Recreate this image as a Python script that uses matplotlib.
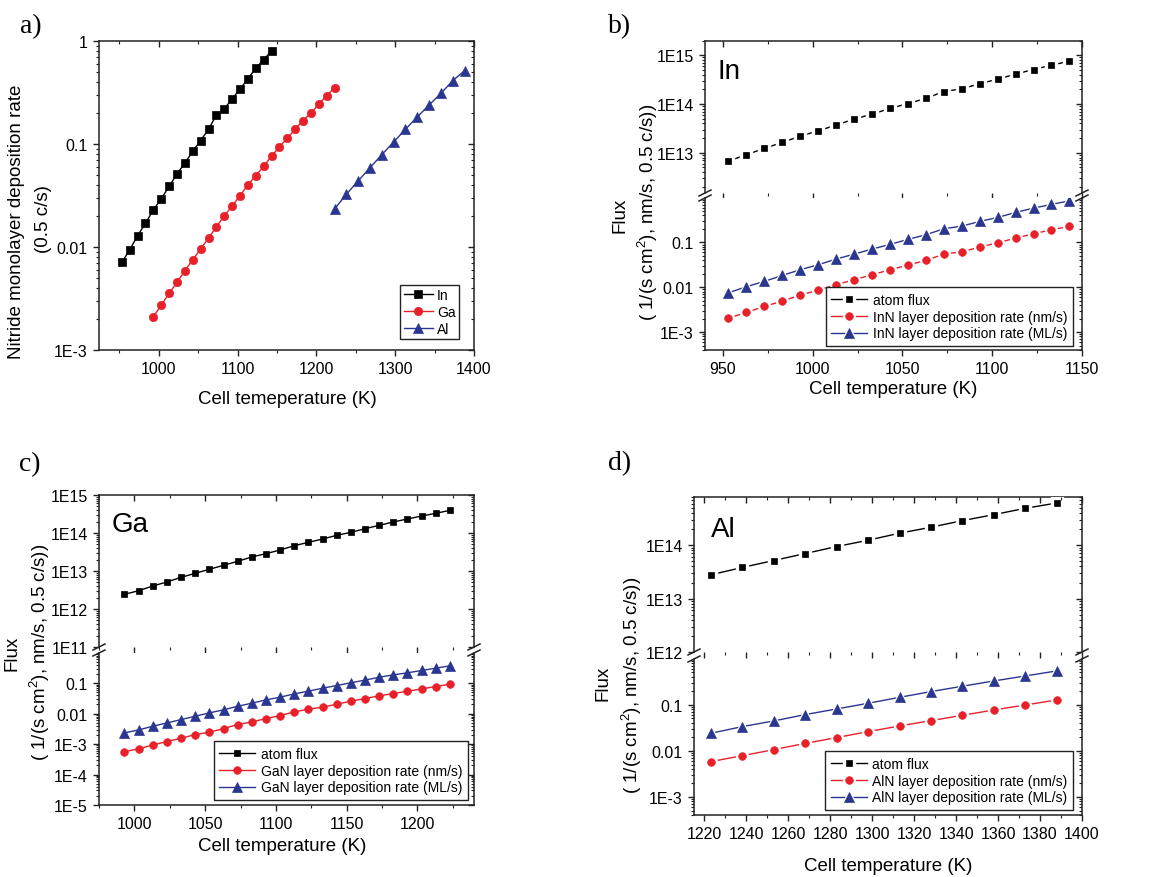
import numpy as np
import matplotlib
matplotlib.use("Agg")
import matplotlib.pyplot as plt
from matplotlib.ticker import MultipleLocator, LogLocator, FuncFormatter, NullFormatter
from matplotlib.lines import Line2D

plt.rcParams['font.family'] = ['Liberation Sans', 'DejaVu Sans']
plt.rcParams['mathtext.fontset'] = 'custom'
plt.rcParams['mathtext.rm'] = 'Liberation Sans'
plt.rcParams['mathtext.it'] = 'Liberation Sans:italic'

W, H = 1159, 878

# cell temperatures (K)
T_in = [953, 963, 973, 983, 993, 1003, 1013, 1023, 1033, 1043,
        1053, 1063, 1073, 1083, 1093, 1103, 1113, 1123, 1133, 1143]
T_ga = [993, 1003, 1013, 1023, 1033, 1043, 1053, 1063, 1073, 1083, 1093, 1103,
        1113, 1123, 1133, 1143, 1153, 1163, 1173, 1183, 1193, 1203, 1213, 1223]
T_al = [1223, 1238, 1253, 1268, 1283, 1298, 1313, 1328, 1343, 1358, 1373, 1388]

# a) nitride monolayer deposition rate (ML/s)
ml_in_a = [0.0071, 0.0094, 0.0129, 0.0170, 0.0229, 0.0294, 0.0388, 0.0511, 0.0654, 0.0849,
           0.108, 0.139, 0.191, 0.219, 0.275, 0.340, 0.431, 0.543, 0.659, 0.80]
ml_ga_a = [0.00211, 0.00272, 0.00355, 0.00454, 0.00589, 0.00753, 0.00957, 0.0122, 0.0157, 0.0201,
           0.0250, 0.0315, 0.0403, 0.0493, 0.0607, 0.0764, 0.0935, 0.114, 0.139, 0.169,
           0.200, 0.243, 0.295, 0.352]
ml_al_a = [0.0234, 0.0325, 0.0438, 0.0589, 0.0787, 0.1045, 0.139, 0.183, 0.239, 0.310, 0.412, 0.515]

# b) In
flux_in = [6.75e12, 9.1e12, 1.23e13, 1.63e13, 2.19e13, 2.82e13, 3.69e13, 4.89e13, 6.19e13, 8.09e13,
           1.02e14, 1.30e14, 1.80e14, 2.05e14, 2.59e14, 3.23e14, 4.09e14, 5.09e14, 6.24e14, 7.54e14]
nm_in = [0.00205, 0.00275, 0.00374, 0.00491, 0.00668, 0.00865, 0.0114, 0.0147, 0.0190, 0.0246,
         0.0312, 0.0397, 0.0549, 0.0619, 0.0787, 0.0984, 0.125, 0.156, 0.192, 0.228]
ml_in = [0.00753, 0.0103, 0.0135, 0.0184, 0.0246, 0.0318, 0.0425, 0.0549, 0.0710, 0.0902,
         0.117, 0.148, 0.202, 0.231, 0.294, 0.361, 0.467, 0.583, 0.704, 0.849]

# c) Ga
flux_ga = [2.43e12, 3.03e12, 4.03e12, 5.14e12, 6.81e12, 8.69e12, 1.11e13, 1.41e13, 1.80e13, 2.34e13,
           2.86e13, 3.57e13, 4.64e13, 5.68e13, 6.95e13, 8.69e13, 1.04e14, 1.30e14, 1.59e14, 1.95e14,
           2.34e14, 2.80e14, 3.29e14, 3.95e14]
nm_ga = [5.66e-4, 6.93e-4, 9.39e-4, 1.21e-3, 1.56e-3, 2.05e-3, 2.45e-3, 3.23e-3, 4.38e-3, 5.35e-3,
         6.89e-3, 8.64e-3, 1.14e-2, 1.40e-2, 1.63e-2, 2.04e-2, 2.56e-2, 3.13e-2, 3.84e-2, 4.57e-2,
         5.46e-2, 6.51e-2, 7.77e-2, 9.27e-2]
ml_ga = [2.33e-3, 2.92e-3, 3.86e-3, 4.96e-3, 6.38e-3, 8.22e-3, 1.06e-2, 1.33e-2, 1.75e-2, 2.20e-2,
         2.83e-2, 3.47e-2, 4.46e-2, 5.46e-2, 6.85e-2, 8.38e-2, 0.103, 0.126, 0.157, 0.188,
         0.219, 0.261, 0.311, 0.371]

# d) Al
flux_al = [2.79e13, 3.83e13, 5.17e13, 6.98e13, 9.44e13, 1.24e14, 1.68e14, 2.17e14, 2.89e14, 3.74e14,
           4.92e14, 6.18e14]
nm_al = [5.77e-3, 7.78e-3, 0.0105, 0.0144, 0.0192, 0.0259, 0.0344, 0.0449, 0.0586, 0.0766, 0.0984, 0.126]
ml_al = [0.0238, 0.0333, 0.0442, 0.0607, 0.0805, 0.107, 0.144, 0.192, 0.251, 0.327, 0.420, 0.540]

RED = '#e8202a'
BLUE = '#2a3690'
TICK_FS = 11.5
LAB_FS = 13.5
LEG_FS = 10

fig = plt.figure(figsize=(W / 100, H / 100), dpi=100, facecolor='white')


def rect(l, t, r, b):
    return [l / W, 1 - b / H, (r - l) / W, (b - t) / H]


def fx(x):
    return x / W


def fy(y):
    return 1 - y / H


def origin_fmt(v, pos):
    e = int(round(np.log10(v)))
    if e == 0:
        return '1'
    if e in (-1, -2):
        return '%.*f' % (-e, 10.0 ** e)
    return '1E%d' % e


def log_locators(axis):
    axis.set_major_locator(LogLocator(base=10, numticks=50))
    axis.set_minor_locator(LogLocator(base=10, subs=np.arange(2, 10) * 1.0, numticks=50))


def make_axes(r, xlim, ylim, xmaj, xmin, top=True, bottom=True):
    ax = fig.add_axes(r)
    ax.set_xlim(xlim)
    ax.set_yscale('log')
    ax.set_ylim(ylim)
    ax.xaxis.set_major_locator(MultipleLocator(xmaj))
    ax.xaxis.set_minor_locator(MultipleLocator(xmin))
    log_locators(ax.yaxis)
    ax.yaxis.set_major_formatter(FuncFormatter(origin_fmt))
    ax.yaxis.set_minor_formatter(NullFormatter())
    ax.tick_params(which='both', direction='out', top=False, right=False,
                   labelsize=TICK_FS, width=1.0, color='#222222')
    ax.tick_params(which='major', length=4.5)
    ax.tick_params(which='minor', length=2.5, width=0.8)
    for s in ax.spines.values():
        s.set_linewidth(1.1)
        s.set_color('#222222')
    if not bottom:
        ax.spines['bottom'].set_visible(False)
        ax.tick_params(axis='x', which='both', bottom=False, labelbottom=False)
    if not top:
        ax.spines['top'].set_visible(False)

    # mirrored ticks pointing inward on the right spine
    rt = ax.twinx()
    rt.set_yscale('log')
    rt.set_ylim(ylim)
    log_locators(rt.yaxis)
    rt.yaxis.set_major_formatter(NullFormatter())
    rt.yaxis.set_minor_formatter(NullFormatter())
    rt.tick_params(axis='y', which='both', direction='in', right=True, left=False,
                   labelright=False, width=1.0, color='#222222')
    rt.tick_params(axis='y', which='major', length=4.5)
    rt.tick_params(axis='y', which='minor', length=2.5, width=0.8)
    for s in rt.spines.values():
        s.set_visible(False)

    if top:
        tp = ax.twiny()
        tp.set_xlim(xlim)
        tp.xaxis.set_major_locator(MultipleLocator(xmaj))
        tp.xaxis.set_minor_locator(MultipleLocator(xmin))
        tp.tick_params(axis='x', which='both', direction='in', top=True, bottom=False,
                       labeltop=False, width=1.0, color='#222222')
        tp.tick_params(axis='x', which='major', length=4.5)
        tp.tick_params(axis='x', which='minor', length=2.5, width=0.8)
        for s in tp.spines.values():
            s.set_visible(False)
    return ax


def series(ax, x, y, color, marker, ms, halo=False):
    ln, = ax.plot(x, y, '-', color=color, lw=1.0, zorder=2)
    parts = [ln]
    if halo:
        h, = ax.plot(x, y, ls='none', marker=marker, ms=ms + 3, color='white', mec='white', zorder=3)
        parts.append(h)
    m, = ax.plot(x, y, ls='none', marker=marker, ms=ms, color=color, mec=color, mew=0.5, zorder=4)
    parts.append(m)
    return tuple(parts)


def legend(ax, handles, labels, right, bottom, **kw):
    lg = ax.legend(handles, labels, loc='lower right',
                   bbox_to_anchor=(fx(right), fy(bottom)), bbox_transform=fig.transFigure,
                   borderaxespad=0, fontsize=LEG_FS, frameon=True, fancybox=False,
                   edgecolor='#222222', framealpha=1, numpoints=1, **kw)
    lg.get_frame().set_linewidth(1.0)
    lg.set_zorder(10)
    return lg


def break_marks(xs, y_up, y_lo):
    for x in xs:
        for y in (y_up, y_lo):
            fig.add_artist(Line2D([fx(x - 6), fx(x + 6)], [fy(y + 3), fy(y - 3)],
                                  transform=fig.transFigure, color='#222222', lw=1.1))


def ylabel_two(x1, y1, x2, y2, line1, line2):
    fig.text(fx(x1), fy(y1), line1, rotation=90, ha='center', va='center', fontsize=LAB_FS)
    fig.text(fx(x2), fy(y2), line2, rotation=90, ha='center', va='center', fontsize=LAB_FS)


flux_label = '( 1/(s cm$^2$), nm/s, 0.5 c/s))'
panel_kw = dict(ha='center', va='center', fontsize=20, family='Liberation Serif')
legend_kw = dict(borderpad=0.4, handlelength=2.6, handletextpad=0.4, labelspacing=0.2)

# ---------------- a) ----------------
ax_a = make_axes(rect(99, 42, 474, 351), (924, 1400), (1e-3, 1), 100, 50)
h1 = series(ax_a, T_in, ml_in_a, 'black', 's', 5.5)
h2 = series(ax_a, T_ga, ml_ga_a, RED, 'o', 6)
h3 = series(ax_a, T_al, ml_al_a, BLUE, '^', 6.5)
legend(ax_a, [h1, h2, h3], ['In', 'Ga', 'Al'], 459, 340,
       borderpad=0.25, handlelength=2.1, handletextpad=0.3, labelspacing=0.2)
ylabel_two(17, 222, 43, 219, 'Nitride monolayer deposition rate', '(0.5 c/s)')
fig.text(fx(287), fy(399), 'Cell temeperature (K)', ha='center', va='center', fontsize=LAB_FS)
fig.text(fx(31), fy(27), 'a)', **panel_kw)

# ---------------- b) In ----------------
bu = make_axes(rect(705, 41.5, 1082, 194), (940, 1150), (1.5e12, 2e15), 50, 25, bottom=False)
bl = make_axes(rect(705, 199, 1082, 351), (940, 1150), (4e-4, 0.98), 50, 25, top=False)
hb1 = series(bu, T_in, flux_in, 'black', 's', 5, halo=True)
hb2 = series(bl, T_in, nm_in, RED, 'o', 5.5, halo=True)
hb3 = series(bl, T_in, ml_in, BLUE, '^', 6.5, halo=True)
legend(bl, [hb1, hb2, hb3], ['atom flux', 'InN layer deposition rate (nm/s)',
                             'InN layer deposition rate (ML/s)'], 1073, 347, **legend_kw)
break_marks([705, 1082], 194, 199)
fig.text(fx(729), fy(72), 'In', ha='center', va='center', fontsize=20)
ylabel_two(620, 215, 648, 212, 'Flux', flux_label)
fig.text(fx(893), fy(390), 'Cell temperature (K)', ha='center', va='center', fontsize=LAB_FS)
fig.text(fx(620), fy(27), 'b)', **panel_kw)

# ---------------- c) Ga ----------------
cu = make_axes(rect(99, 496, 474, 648), (975, 1240), (1e11, 1e15), 50, 25, bottom=False)
cl = make_axes(rect(99, 654, 474, 806), (975, 1240), (1e-5, 0.98), 50, 25, top=False)
hc1 = series(cu, T_ga, flux_ga, 'black', 's', 5)
hc2 = series(cl, T_ga, nm_ga, RED, 'o', 5.5)
hc3 = series(cl, T_ga, ml_ga, BLUE, '^', 6.5)
legend(cl, [hc1, hc2, hc3], ['atom flux', 'GaN layer deposition rate (nm/s)',
                             'GaN layer deposition rate (ML/s)'], 468, 801, **legend_kw)
break_marks([99, 474], 648, 654)
fig.text(fx(130), fy(525), 'Ga', ha='center', va='center', fontsize=20)
ylabel_two(12, 653, 40, 652, 'Flux', flux_label)
fig.text(fx(282), fy(847), 'Cell temperature (K)', ha='center', va='center', fontsize=LAB_FS)
fig.text(fx(30), fy(465), 'c)', **panel_kw)

# ---------------- d) Al ----------------
du = make_axes(rect(694, 498, 1082, 653), (1215, 1400), (1e12, 8e14), 20, 10, bottom=False)
dl = make_axes(rect(694, 660, 1082, 816), (1215, 1400), (4e-4, 0.98), 20, 10, top=False)
hd1 = series(du, T_al, flux_al, 'black', 's', 5, halo=True)
hd2 = series(dl, T_al, nm_al, RED, 'o', 5.5, halo=True)
hd3 = series(dl, T_al, ml_al, BLUE, '^', 6.5, halo=True)
legend(dl, [hd1, hd2, hd3], ['atom flux', 'AlN layer deposition rate (nm/s)',
                             'AlN layer deposition rate (ML/s)'], 1073, 811, **legend_kw)
break_marks([694, 1082], 653, 660)
fig.text(fx(723), fy(530), 'Al', ha='center', va='center', fontsize=20)
ylabel_two(603, 683, 632, 685, 'Flux', flux_label)
fig.text(fx(888), fy(867), 'Cell temperature (K)', ha='center', va='center', fontsize=LAB_FS)
fig.text(fx(620), fy(464), 'd)', **panel_kw)

fig.savefig('out.png', dpi=100, facecolor='white')
